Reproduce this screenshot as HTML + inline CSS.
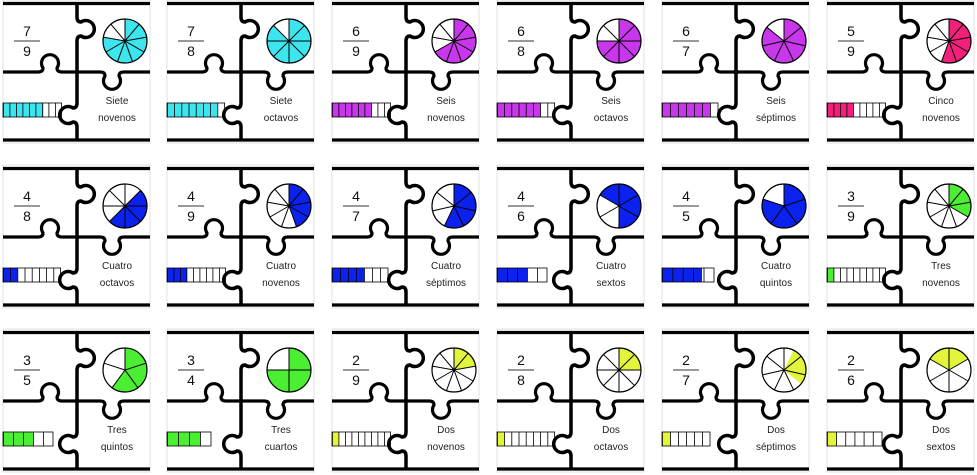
<!DOCTYPE html>
<html><head><meta charset="utf-8"><style>
body{margin:0;background:#fff;}
svg{display:block;}
text{font-family:"Liberation Sans",sans-serif;fill:#222;}
.n{font-size:14px;text-anchor:middle;fill:#111}
.l{font-size:10px;text-anchor:middle;}
</style></head><body>
<svg width="977" height="475" viewBox="0 0 977 475" xmlns="http://www.w3.org/2000/svg">
<defs>
<g id="frame">
<rect x="0" y="0" width="147" height="143" fill="#fff" stroke="#e2e2e2" stroke-width="1"/>
<path d="M0 3.5H147 M0 140H147" stroke="#000" stroke-width="3.2" fill="none"/>
<path d="M74 3.5V17 Q74 22 78 22 A8.5 8.5 0 1 1 78 36 Q74 36 74 41 V103 Q74 108 70 108 A8.5 8.5 0 1 0 70 122 Q74 122 74 127 V140" stroke="#000" stroke-width="3.5" fill="none"/>
<path d="M0 72H35 Q40 72 40 68 A8.5 8.5 0 1 1 54 68 Q54 72 59 72 H97 Q102 72 102 76 A8.5 8.5 0 1 0 116 76 Q116 72 121 72 H147" stroke="#000" stroke-width="3.2" fill="none"/>
</g>
<g id="s9" stroke="#000" stroke-width="1"><line y2="-22"/><line y2="-22" transform="rotate(40)"/><line y2="-22" transform="rotate(80)"/><line y2="-22" transform="rotate(120)"/><line y2="-22" transform="rotate(160)"/><line y2="-22" transform="rotate(200)"/><line y2="-22" transform="rotate(240)"/><line y2="-22" transform="rotate(280)"/><line y2="-22" transform="rotate(320)"/></g>
<g id="s8" stroke="#000" stroke-width="1"><line y2="-22"/><line y2="-22" transform="rotate(45)"/><line y2="-22" transform="rotate(90)"/><line y2="-22" transform="rotate(135)"/><line y2="-22" transform="rotate(180)"/><line y2="-22" transform="rotate(225)"/><line y2="-22" transform="rotate(270)"/><line y2="-22" transform="rotate(315)"/></g>
<g id="s7" stroke="#000" stroke-width="1"><line y2="-22"/><line y2="-22" transform="rotate(51.43)"/><line y2="-22" transform="rotate(102.86)"/><line y2="-22" transform="rotate(154.29)"/><line y2="-22" transform="rotate(205.71)"/><line y2="-22" transform="rotate(257.14)"/><line y2="-22" transform="rotate(308.57)"/></g>
<g id="s6" stroke="#000" stroke-width="1"><line y2="-22"/><line y2="-22" transform="rotate(60)"/><line y2="-22" transform="rotate(120)"/><line y2="-22" transform="rotate(180)"/><line y2="-22" transform="rotate(240)"/><line y2="-22" transform="rotate(300)"/></g>
<g id="s5" stroke="#000" stroke-width="1"><line y2="-22"/><line y2="-22" transform="rotate(72)"/><line y2="-22" transform="rotate(144)"/><line y2="-22" transform="rotate(216)"/><line y2="-22" transform="rotate(288)"/></g>
<g id="s4" stroke="#000" stroke-width="1"><line y2="-22"/><line y2="-22" transform="rotate(90)"/><line y2="-22" transform="rotate(180)"/><line y2="-22" transform="rotate(270)"/></g>
<g id="fl"><line x1="11" y1="41" x2="37" y2="41" stroke="#333" stroke-width="1"/></g>
</defs>

<!-- Row 1 -->
<g transform="translate(3,0)"><use href="#frame"/><text class="n" x="24" y="36">7</text><use href="#fl"/><text class="n" x="24" y="56">9</text>
<g transform="translate(122,41)"><circle r="22" fill="#fff"/><circle r="11" fill="none" stroke="#3de6ee" stroke-width="22" stroke-dasharray="53.76 100" transform="rotate(-90)"/><use href="#s9"/><circle r="22" fill="none" stroke="#000" stroke-width="1.2"/></g>
<rect x="0" y="103" width="40.5" height="14" fill="#3de6ee"/><rect x="0" y="103" width="58.5" height="14" fill="none" stroke="#000" stroke-width="0.8"/><line x1="0" y1="110" x2="58.5" y2="110" stroke="#000" stroke-width="14" stroke-dasharray="0.8 5.7"/>
<text class="l" x="114" y="104">Siete</text><text class="l" x="114" y="121">novenos</text></g>

<g transform="translate(167,0)"><use href="#frame"/><text class="n" x="24" y="36">7</text><use href="#fl"/><text class="n" x="24" y="56">8</text>
<g transform="translate(122,41)"><circle r="22" fill="#fff"/><circle r="11" fill="none" stroke="#3de6ee" stroke-width="22" stroke-dasharray="60.48 100" transform="rotate(-90)"/><use href="#s8"/><circle r="22" fill="none" stroke="#000" stroke-width="1.2"/></g>
<rect x="0" y="103" width="50.4" height="14" fill="#3de6ee"/><rect x="0" y="103" width="57.6" height="14" fill="none" stroke="#000" stroke-width="0.8"/><line x1="0" y1="110" x2="57.6" y2="110" stroke="#000" stroke-width="14" stroke-dasharray="0.8 6.4"/>
<text class="l" x="114" y="104">Siete</text><text class="l" x="114" y="121">octavos</text></g>

<g transform="translate(332,0)"><use href="#frame"/><text class="n" x="24" y="36">6</text><use href="#fl"/><text class="n" x="24" y="56">9</text>
<g transform="translate(122,41)"><circle r="22" fill="#fff"/><circle r="11" fill="none" stroke="#c837ec" stroke-width="22" stroke-dasharray="46.08 100" transform="rotate(-90)"/><use href="#s9"/><circle r="22" fill="none" stroke="#000" stroke-width="1.2"/></g>
<rect x="0" y="103" width="39" height="14" fill="#c837ec"/><rect x="0" y="103" width="58.5" height="14" fill="none" stroke="#000" stroke-width="0.8"/><line x1="0" y1="110" x2="58.5" y2="110" stroke="#000" stroke-width="14" stroke-dasharray="0.8 5.7"/>
<text class="l" x="114" y="104">Seis</text><text class="l" x="114" y="121">novenos</text></g>

<g transform="translate(497,0)"><use href="#frame"/><text class="n" x="24" y="36">6</text><use href="#fl"/><text class="n" x="24" y="56">8</text>
<g transform="translate(122,41)"><circle r="22" fill="#fff"/><circle r="11" fill="none" stroke="#c837ec" stroke-width="22" stroke-dasharray="51.84 100" transform="rotate(-90)"/><use href="#s8"/><circle r="22" fill="none" stroke="#000" stroke-width="1.2"/></g>
<rect x="0" y="103" width="43.2" height="14" fill="#c837ec"/><rect x="0" y="103" width="57.6" height="14" fill="none" stroke="#000" stroke-width="0.8"/><line x1="0" y1="110" x2="57.6" y2="110" stroke="#000" stroke-width="14" stroke-dasharray="0.8 6.4"/>
<text class="l" x="114" y="104">Seis</text><text class="l" x="114" y="121">octavos</text></g>

<g transform="translate(662,0)"><use href="#frame"/><text class="n" x="24" y="36">6</text><use href="#fl"/><text class="n" x="24" y="56">7</text>
<g transform="translate(122,41)"><circle r="22" fill="#fff"/><circle r="11" fill="none" stroke="#c837ec" stroke-width="22" stroke-dasharray="59.24 100" transform="rotate(-90)"/><use href="#s7"/><circle r="22" fill="none" stroke="#000" stroke-width="1.2"/></g>
<rect x="0" y="103" width="48" height="14" fill="#c837ec"/><rect x="0" y="103" width="56" height="14" fill="none" stroke="#000" stroke-width="0.8"/><line x1="0" y1="110" x2="56" y2="110" stroke="#000" stroke-width="14" stroke-dasharray="0.8 7.2"/>
<text class="l" x="114" y="104">Seis</text><text class="l" x="114" y="121">séptimos</text></g>

<g transform="translate(827,0)"><use href="#frame"/><text class="n" x="24" y="36">5</text><use href="#fl"/><text class="n" x="24" y="56">9</text>
<g transform="translate(122,41)"><circle r="22" fill="#fff"/><circle r="11" fill="none" stroke="#f2207a" stroke-width="22" stroke-dasharray="38.40 100" transform="rotate(-90)"/><use href="#s9"/><circle r="22" fill="none" stroke="#000" stroke-width="1.2"/></g>
<rect x="0" y="103" width="26" height="14" fill="#f2207a"/><rect x="0" y="103" width="58.5" height="14" fill="none" stroke="#000" stroke-width="0.8"/><line x1="0" y1="110" x2="58.5" y2="110" stroke="#000" stroke-width="14" stroke-dasharray="0.8 5.7"/>
<text class="l" x="114" y="104">Cinco</text><text class="l" x="114" y="121">novenos</text></g>

<!-- Row 2 -->
<g transform="translate(3,165)"><use href="#frame"/><text class="n" x="24" y="36">4</text><use href="#fl"/><text class="n" x="24" y="56">8</text>
<g transform="translate(122,41)"><circle r="22" fill="#fff"/><circle r="11" fill="none" stroke="#0b22ee" stroke-width="22" stroke-dasharray="34.56 100" transform="rotate(-45)"/><use href="#s8"/><circle r="22" fill="none" stroke="#000" stroke-width="1.2"/></g>
<rect x="0" y="103" width="14.4" height="14" fill="#0b22ee"/><rect x="0" y="103" width="57.6" height="14" fill="none" stroke="#000" stroke-width="0.8"/><line x1="0" y1="110" x2="57.6" y2="110" stroke="#000" stroke-width="14" stroke-dasharray="0.8 6.4"/>
<text class="l" x="114" y="104">Cuatro</text><text class="l" x="114" y="121">octavos</text></g>

<g transform="translate(167,165)"><use href="#frame"/><text class="n" x="24" y="36">4</text><use href="#fl"/><text class="n" x="24" y="56">9</text>
<g transform="translate(122,41)"><circle r="22" fill="#fff"/><circle r="11" fill="none" stroke="#0b22ee" stroke-width="22" stroke-dasharray="30.72 100" transform="rotate(-90)"/><use href="#s9"/><circle r="22" fill="none" stroke="#000" stroke-width="1.2"/></g>
<rect x="0" y="103" width="19.5" height="14" fill="#0b22ee"/><rect x="0" y="103" width="58.5" height="14" fill="none" stroke="#000" stroke-width="0.8"/><line x1="0" y1="110" x2="58.5" y2="110" stroke="#000" stroke-width="14" stroke-dasharray="0.8 5.7"/>
<text class="l" x="114" y="104">Cuatro</text><text class="l" x="114" y="121">novenos</text></g>

<g transform="translate(332,165)"><use href="#frame"/><text class="n" x="24" y="36">4</text><use href="#fl"/><text class="n" x="24" y="56">7</text>
<g transform="translate(122,41)"><circle r="22" fill="#fff"/><circle r="11" fill="none" stroke="#0b22ee" stroke-width="22" stroke-dasharray="39.49 100" transform="rotate(-90)"/><use href="#s7"/><circle r="22" fill="none" stroke="#000" stroke-width="1.2"/></g>
<rect x="0" y="103" width="32" height="14" fill="#0b22ee"/><rect x="0" y="103" width="56" height="14" fill="none" stroke="#000" stroke-width="0.8"/><line x1="0" y1="110" x2="56" y2="110" stroke="#000" stroke-width="14" stroke-dasharray="0.8 7.2"/>
<text class="l" x="114" y="104">Cuatro</text><text class="l" x="114" y="121">séptimos</text></g>

<g transform="translate(497,165)"><use href="#frame"/><text class="n" x="24" y="36">4</text><use href="#fl"/><text class="n" x="24" y="56">6</text>
<g transform="translate(122,41)"><circle r="22" fill="#fff"/><circle r="11" fill="none" stroke="#0b22ee" stroke-width="22" stroke-dasharray="46.08 100" transform="rotate(-150)"/><use href="#s6"/><circle r="22" fill="none" stroke="#000" stroke-width="1.2"/></g>
<rect x="0" y="103" width="30" height="14" fill="#0b22ee"/><rect x="0" y="103" width="50" height="14" fill="none" stroke="#000" stroke-width="0.8"/><line x1="0" y1="110" x2="50" y2="110" stroke="#000" stroke-width="14" stroke-dasharray="0.8 9.2"/>
<text class="l" x="114" y="104">Cuatro</text><text class="l" x="114" y="121">sextos</text></g>

<g transform="translate(662,165)"><use href="#frame"/><text class="n" x="24" y="36">4</text><use href="#fl"/><text class="n" x="24" y="56">5</text>
<g transform="translate(122,41)"><circle r="22" fill="#fff"/><circle r="11" fill="none" stroke="#0b22ee" stroke-width="22" stroke-dasharray="55.29 100" transform="rotate(-90)"/><use href="#s5"/><circle r="22" fill="none" stroke="#000" stroke-width="1.2"/></g>
<rect x="0" y="103" width="40" height="14" fill="#0b22ee"/><rect x="0" y="103" width="52" height="14" fill="none" stroke="#000" stroke-width="0.8"/><line x1="0" y1="110" x2="52" y2="110" stroke="#000" stroke-width="14" stroke-dasharray="0.8 9.6"/>
<text class="l" x="114" y="104">Cuatro</text><text class="l" x="114" y="121">quintos</text></g>

<g transform="translate(827,165)"><use href="#frame"/><text class="n" x="24" y="36">3</text><use href="#fl"/><text class="n" x="24" y="56">9</text>
<g transform="translate(122,41)"><circle r="22" fill="#fff"/><circle r="11" fill="none" stroke="#4cee34" stroke-width="22" stroke-dasharray="23.04 100" transform="rotate(-90)"/><use href="#s9"/><circle r="22" fill="none" stroke="#000" stroke-width="1.2"/></g>
<rect x="0" y="103" width="6.5" height="14" fill="#4cee34"/><rect x="0" y="103" width="58.5" height="14" fill="none" stroke="#000" stroke-width="0.8"/><line x1="0" y1="110" x2="58.5" y2="110" stroke="#000" stroke-width="14" stroke-dasharray="0.8 5.7"/>
<text class="l" x="114" y="104">Tres</text><text class="l" x="114" y="121">novenos</text></g>

<!-- Row 3 -->
<g transform="translate(3,329)"><use href="#frame"/><text class="n" x="24" y="36">3</text><use href="#fl"/><text class="n" x="24" y="56">5</text>
<g transform="translate(122,41)"><circle r="22" fill="#fff"/><circle r="11" fill="none" stroke="#4cee34" stroke-width="22" stroke-dasharray="41.47 100" transform="rotate(-90)"/><use href="#s5"/><circle r="22" fill="none" stroke="#000" stroke-width="1.2"/></g>
<rect x="0" y="103" width="30" height="14" fill="#4cee34"/><rect x="0" y="103" width="50" height="14" fill="none" stroke="#000" stroke-width="0.8"/><line x1="0" y1="110" x2="50" y2="110" stroke="#000" stroke-width="14" stroke-dasharray="0.8 9.2"/>
<text class="l" x="114" y="104">Tres</text><text class="l" x="114" y="121">quintos</text></g>

<g transform="translate(167,329)"><use href="#frame"/><text class="n" x="24" y="36">3</text><use href="#fl"/><text class="n" x="24" y="56">4</text>
<g transform="translate(122,41)"><circle r="22" fill="#fff"/><circle r="11" fill="none" stroke="#4cee34" stroke-width="22" stroke-dasharray="51.84 100" transform="rotate(-90)"/><use href="#s4"/><circle r="22" fill="none" stroke="#000" stroke-width="1.2"/></g>
<rect x="0" y="103" width="33" height="14" fill="#4cee34"/><rect x="0" y="103" width="44" height="14" fill="none" stroke="#000" stroke-width="0.8"/><line x1="0" y1="110" x2="44" y2="110" stroke="#000" stroke-width="14" stroke-dasharray="0.8 10.2"/>
<text class="l" x="114" y="104">Tres</text><text class="l" x="114" y="121">cuartos</text></g>

<g transform="translate(332,329)"><use href="#frame"/><text class="n" x="24" y="36">2</text><use href="#fl"/><text class="n" x="24" y="56">9</text>
<g transform="translate(122,41)"><circle r="22" fill="#fff"/><circle r="11" fill="none" stroke="#e2f53a" stroke-width="22" stroke-dasharray="15.36 100" transform="rotate(-90)"/><use href="#s9"/><circle r="22" fill="none" stroke="#000" stroke-width="1.2"/></g>
<rect x="0" y="103" width="6.5" height="14" fill="#e2f53a"/><rect x="0" y="103" width="58.5" height="14" fill="none" stroke="#000" stroke-width="0.8"/><line x1="0" y1="110" x2="58.5" y2="110" stroke="#000" stroke-width="14" stroke-dasharray="0.8 5.7"/>
<text class="l" x="114" y="104">Dos</text><text class="l" x="114" y="121">novenos</text></g>

<g transform="translate(497,329)"><use href="#frame"/><text class="n" x="24" y="36">2</text><use href="#fl"/><text class="n" x="24" y="56">8</text>
<g transform="translate(122,41)"><circle r="22" fill="#fff"/><circle r="11" fill="none" stroke="#e2f53a" stroke-width="22" stroke-dasharray="17.28 100" transform="rotate(-90)"/><use href="#s8"/><circle r="22" fill="none" stroke="#000" stroke-width="1.2"/></g>
<rect x="0" y="103" width="7.2" height="14" fill="#e2f53a"/><rect x="0" y="103" width="57.6" height="14" fill="none" stroke="#000" stroke-width="0.8"/><line x1="0" y1="110" x2="57.6" y2="110" stroke="#000" stroke-width="14" stroke-dasharray="0.8 6.4"/>
<text class="l" x="114" y="104">Dos</text><text class="l" x="114" y="121">octavos</text></g>

<g transform="translate(662,329)"><use href="#frame"/><text class="n" x="24" y="36">2</text><use href="#fl"/><text class="n" x="24" y="56">7</text>
<g transform="translate(122,41)"><circle r="22" fill="#fff"/><circle r="11" fill="none" stroke="#e2f53a" stroke-width="22" stroke-dasharray="19.75 100" transform="rotate(-64.3)"/><use href="#s7"/><circle r="22" fill="none" stroke="#000" stroke-width="1.2"/></g>
<rect x="0" y="103" width="8" height="14" fill="#e2f53a"/><rect x="0" y="103" width="48" height="14" fill="none" stroke="#000" stroke-width="0.8"/><line x1="0" y1="110" x2="48" y2="110" stroke="#000" stroke-width="14" stroke-dasharray="0.8 7.2"/>
<text class="l" x="114" y="104">Dos</text><text class="l" x="114" y="121">séptimos</text></g>

<g transform="translate(827,329)"><use href="#frame"/><text class="n" x="24" y="36">2</text><use href="#fl"/><text class="n" x="24" y="56">6</text>
<g transform="translate(122,41)"><circle r="22" fill="#fff"/><circle r="11" fill="none" stroke="#e2f53a" stroke-width="22" stroke-dasharray="23.04 100" transform="rotate(-150)"/><use href="#s6"/><circle r="22" fill="none" stroke="#000" stroke-width="1.2"/></g>
<rect x="0" y="103" width="10" height="14" fill="#e2f53a"/><rect x="0" y="103" width="55" height="14" fill="none" stroke="#000" stroke-width="0.8"/><line x1="0" y1="110" x2="55" y2="110" stroke="#000" stroke-width="14" stroke-dasharray="0.8 8.37"/>
<text class="l" x="114" y="104">Dos</text><text class="l" x="114" y="121">sextos</text></g>
</svg>
</body></html>
